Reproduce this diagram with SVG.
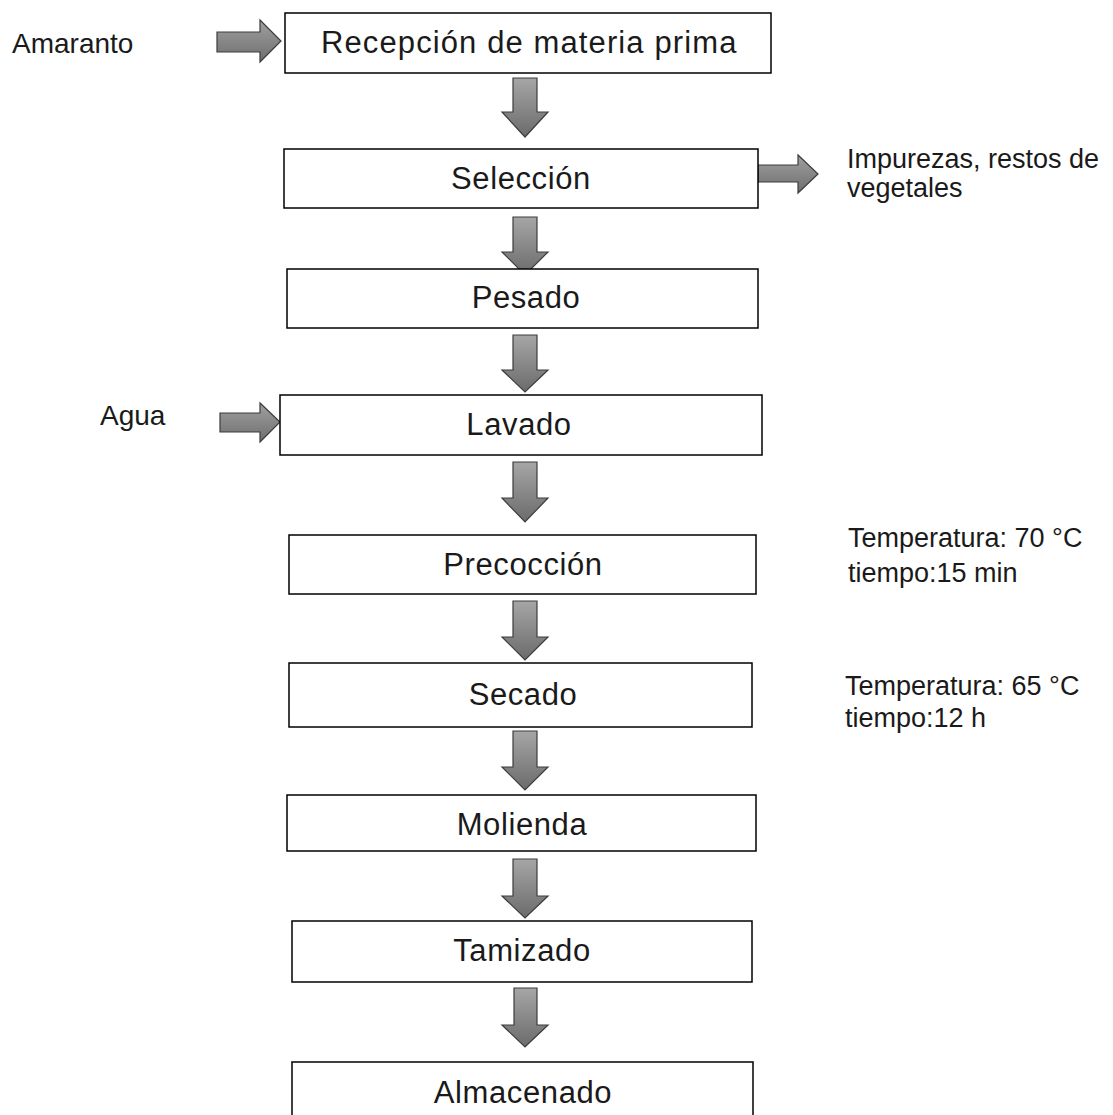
<svg xmlns="http://www.w3.org/2000/svg" width="1113" height="1115" viewBox="0 0 1113 1115">
<defs>
<linearGradient id="g" x1="0" y1="0" x2="0" y2="1">
<stop offset="0" stop-color="#a6a6a6"/>
<stop offset="1" stop-color="#6b6b6b"/>
</linearGradient>
<linearGradient id="gh" x1="0" y1="0" x2="0" y2="1">
<stop offset="0" stop-color="#a0a0a0"/>
<stop offset="1" stop-color="#6e6e6e"/>
</linearGradient>
</defs>
<style>
.box{fill:#fff;stroke:#000;stroke-width:1.5}
.arr{fill:url(#g);stroke:#3c3c3c;stroke-width:1.2;stroke-linejoin:miter}
.harr{fill:url(#gh);stroke:#3c3c3c;stroke-width:1.2}
.t{font-family:"Liberation Sans",Arial,sans-serif;font-size:31px;fill:#1a1a1a;text-anchor:middle;letter-spacing:0.6px}
.s{font-family:"Liberation Sans",Arial,sans-serif;font-size:27px;fill:#1a1a1a}
.l{font-family:"Liberation Sans",Arial,sans-serif;font-size:28px;fill:#1a1a1a}
</style>
<rect width="1113" height="1115" fill="#fff"/>
<g id="connectors">
<path class="harr" d="M217 32H260V20L281 41L260 62V52H217Z"/>
<path class="harr" d="M758 165H798V155L818 174L798 193V182H758Z"/>
<path class="harr" d="M220 413H260V403L280 422L260 442V432H220Z"/>
<path class="arr" d="M513 78H537V112H548L525 137L502 112H513Z"/>
<path class="arr" d="M513 217H537V252H548L525 275L502 252H513Z"/>
<path class="arr" d="M513 335H537V370H548L525 392L502 370H513Z"/>
<path class="arr" d="M513 462H537V498H548L525 522L502 498H513Z"/>
<path class="arr" d="M513 601H537V637H548L525 660L502 637H513Z"/>
<path class="arr" d="M513 731H537V767H548L525 790L502 767H513Z"/>
<path class="arr" d="M513 859H537V896H548L525 918L502 896H513Z"/>
<path class="arr" d="M514 988H537V1025H548L525 1047L502 1025H514Z"/>
</g>
<g id="amaranto"><text class="l" x="12" y="53">Amaranto</text></g>
<g id="agua"><text class="l" x="100" y="425">Agua</text></g>
<g id="impurezas"><text class="s" x="847" y="168">Impurezas, restos de</text><text class="s" x="847" y="197">vegetales</text></g>
<g id="cond70"><text class="s" x="848" y="547">Temperatura: 70 °C</text><text class="s" x="848" y="582">tiempo:15 min</text></g>
<g id="cond65"><text class="s" x="845" y="695">Temperatura: 65 °C</text><text class="s" x="845" y="727">tiempo:12 h</text></g>
<g id="recepcion"><rect class="box" x="285" y="13" width="486" height="60"/><text class="t" x="529" y="53" textLength="416" lengthAdjust="spacing">Recepción de materia prima</text></g>
<g id="seleccion"><rect class="box" x="284" y="149" width="474" height="59"/><text class="t" x="521" y="189">Selección</text></g>
<g id="pesado"><rect class="box" x="287" y="269" width="471" height="59"/><text class="t" x="526" y="308">Pesado</text></g>
<g id="lavado"><rect class="box" x="280" y="395" width="482" height="60"/><text class="t" x="519" y="435">Lavado</text></g>
<g id="precoccion"><rect class="box" x="289" y="535" width="467" height="59"/><text class="t" x="523" y="575">Precocción</text></g>
<g id="secado"><rect class="box" x="289" y="663" width="463" height="64"/><text class="t" x="523" y="705">Secado</text></g>
<g id="molienda"><rect class="box" x="287" y="795" width="469" height="56"/><text class="t" x="522" y="835">Molienda</text></g>
<g id="tamizado"><rect class="box" x="292" y="921" width="460" height="61"/><text class="t" x="522" y="961">Tamizado</text></g>
<g id="almacenado"><rect class="box" x="292" y="1062" width="461" height="70"/><text class="t" x="523" y="1103">Almacenado</text></g>
</svg>
